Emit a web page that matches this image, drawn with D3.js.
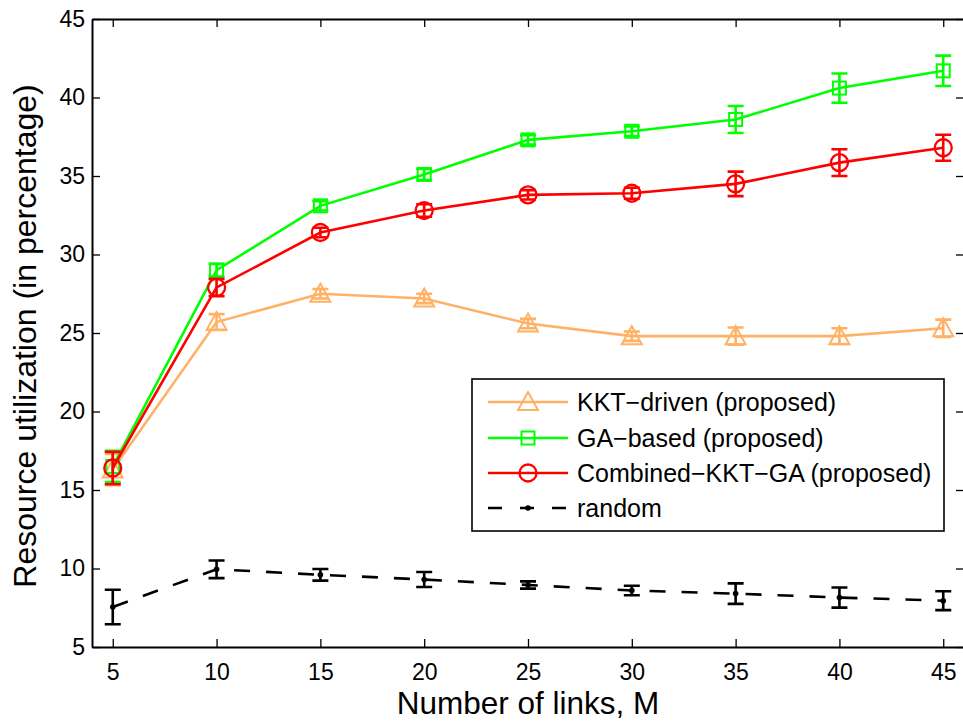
<!DOCTYPE html>
<html>
<head>
<meta charset="utf-8">
<script src="https://cdn.jsdelivr.net/npm/d3@7"></script>
<style>
  html, body { margin: 0; padding: 0; background: #fff; }
  svg { display: block; font-family: "Liberation Sans", Arial, sans-serif; }
</style>
</head>
<body>
<svg id="chart" width="963" height="726"></svg>
<script>
// Number of links M
const links = [5, 10, 15, 20, 25, 30, 35, 40, 45];

// Mean resource utilization (%) and error half-widths per scheme
const kktValues = [16.3, 25.7, 27.5, 27.2, 25.6, 24.8, 24.8, 24.8, 25.3];
const kktErrors = [1.0, 0.5, 0.3, 0.3, 0.3, 0.3, 0.55, 0.5, 0.55];

const gaValues = [16.5, 29.0, 33.1, 35.1, 37.3, 37.85, 38.6, 40.6, 41.7];
const gaErrors = [1.0, 0.4, 0.3, 0.35, 0.3, 0.3, 0.86, 0.93, 0.97];

const combValues = [16.4, 27.9, 31.4, 32.8, 33.8, 33.9, 34.5, 35.85, 36.8];
const combErrors = [1.03, 0.55, 0.3, 0.4, 0.3, 0.35, 0.78, 0.85, 0.83];

const randValues = [7.55, 9.95, 9.6, 9.3, 8.95, 8.6, 8.4, 8.15, 7.95];
const randErrors = [1.1, 0.56, 0.37, 0.48, 0.23, 0.3, 0.65, 0.64, 0.6];

const xTicks = [5, 10, 15, 20, 25, 30, 35, 40, 45];
const yTicks = [5, 10, 15, 20, 25, 30, 35, 40, 45];

const seriesNames = ["KKT\u2212driven (proposed)", "GA\u2212based (proposed)",
                     "Combined\u2212KKT\u2212GA (proposed)", "random"];

const svg = d3.select("#chart");
const plotL = 92, plotR = 964, plotT = 19, plotB = 647;

const x = d3.scaleLinear().domain([4, 46]).range([plotL, plotR]);
const y = d3.scaleLinear().domain([5, 45]).range([plotB, plotT]);

const series = [
  { name: seriesNames[0], values: kktValues, errors: kktErrors, color: "#FFB266", marker: "triangle", dash: null },
  { name: seriesNames[1], values: gaValues, errors: gaErrors, color: "#00FF00", marker: "square", dash: null },
  { name: seriesNames[2], values: combValues, errors: combErrors, color: "#FF0000", marker: "circle", dash: null },
  { name: seriesNames[3], values: randValues, errors: randErrors, color: "#000000", marker: "dot", dash: "16,16" }
];

// Axes: ticks point inward, mirrored on top and right
const tickLen = 8;
const tickFont = 23;
const axisG = svg.append("g");
axisG.append("g")
  .attr("transform", `translate(0,${plotB})`)
  .call(d3.axisBottom(x).tickValues(xTicks).tickSizeInner(-tickLen).tickSizeOuter(0).tickPadding(17))
  .call(g => g.selectAll("text").attr("font-size", tickFont).attr("fill", "#000"));
axisG.append("g")
  .attr("transform", `translate(0,${plotT})`)
  .call(d3.axisTop(x).tickValues(xTicks).tickSizeInner(-tickLen).tickSizeOuter(0).tickFormat(""));
axisG.append("g")
  .attr("transform", `translate(${plotL},0)`)
  .call(d3.axisLeft(y).tickValues(yTicks).tickSizeInner(-tickLen).tickSizeOuter(0).tickPadding(7))
  .call(g => g.selectAll("text").attr("font-size", tickFont).attr("fill", "#000"));
axisG.append("g")
  .attr("transform", `translate(${plotR},0)`)
  .call(d3.axisRight(y).tickValues(yTicks).tickSizeInner(-tickLen).tickSizeOuter(0).tickFormat(""));
axisG.selectAll(".domain").attr("stroke", "#000").attr("stroke-width", 2);
axisG.selectAll(".tick line").attr("stroke", "#000").attr("stroke-width", 1.3);

// Axis titles
svg.append("text")
  .attr("x", 528).attr("y", 714)
  .attr("text-anchor", "middle").attr("font-size", 31.5).text("Number of links, M");
svg.append("text")
  .attr("transform", `translate(36,336) rotate(-90)`)
  .attr("text-anchor", "middle").attr("font-size", 32).text("Resource utilization (in percentage)");

function drawMarker(g, type, cx, cy, color) {
  if (type === "triangle") {
    const s = 10;
    g.append("path")
      .attr("d", `M${cx},${cy - s} L${cx + s},${cy + s * 0.8} L${cx - s},${cy + s * 0.8} Z`)
      .attr("fill", "none").attr("stroke", color).attr("stroke-width", 2);
  } else if (type === "square") {
    g.append("rect").attr("x", cx - 6.5).attr("y", cy - 6.5).attr("width", 13).attr("height", 13)
      .attr("fill", "none").attr("stroke", color).attr("stroke-width", 2);
  } else if (type === "circle") {
    g.append("circle").attr("cx", cx).attr("cy", cy).attr("r", 8.5)
      .attr("fill", "none").attr("stroke", color).attr("stroke-width", 2.3);
  } else {
    g.append("circle").attr("cx", cx).attr("cy", cy).attr("r", 2.8).attr("fill", color);
  }
}

const line = d3.line().x(d => x(d[0])).y(d => y(d[1]));
const plot = svg.append("g");

series.forEach(s => {
  const g = plot.append("g");
  const pts = links.map((m, i) => [m, s.values[i], s.errors[i]]);
  g.append("path").datum(pts).attr("d", line)
    .attr("fill", "none").attr("stroke", s.color).attr("stroke-width", 2.6)
    .attr("stroke-dasharray", s.dash);
  const cap = 8;
  pts.forEach(p => {
    const cx = x(p[0]), y1 = y(p[1] + p[2]), y2 = y(p[1] - p[2]);
    g.append("path")
      .attr("d", `M${cx},${y1} V${y2} M${cx - cap},${y1} H${cx + cap} M${cx - cap},${y2} H${cx + cap}`)
      .attr("fill", "none").attr("stroke", s.color).attr("stroke-width", 2.6);
    drawMarker(g, s.marker, cx, y(p[1]), s.color);
  });
});

// Legend
const lg = svg.append("g");
const lx = 472, ly = 379, lw = 472, lh = 152;
lg.append("rect").attr("x", lx).attr("y", ly).attr("width", lw).attr("height", lh)
  .attr("fill", "#fff").attr("stroke", "#000").attr("stroke-width", 1.6);
const rowY = [402, 438, 473, 508];
series.forEach((s, i) => {
  const yy = rowY[i];
  lg.append("line").attr("x1", 488).attr("x2", 568).attr("y1", yy).attr("y2", yy)
    .attr("stroke", s.color).attr("stroke-width", 2.6).attr("stroke-dasharray", s.dash ? "14,18" : null);
  drawMarker(lg, s.marker, 528, yy, s.color);
  lg.append("text").attr("x", 577).attr("y", yy + 9).attr("font-size", 25).text(s.name);
});
</script>
</body>
</html>
